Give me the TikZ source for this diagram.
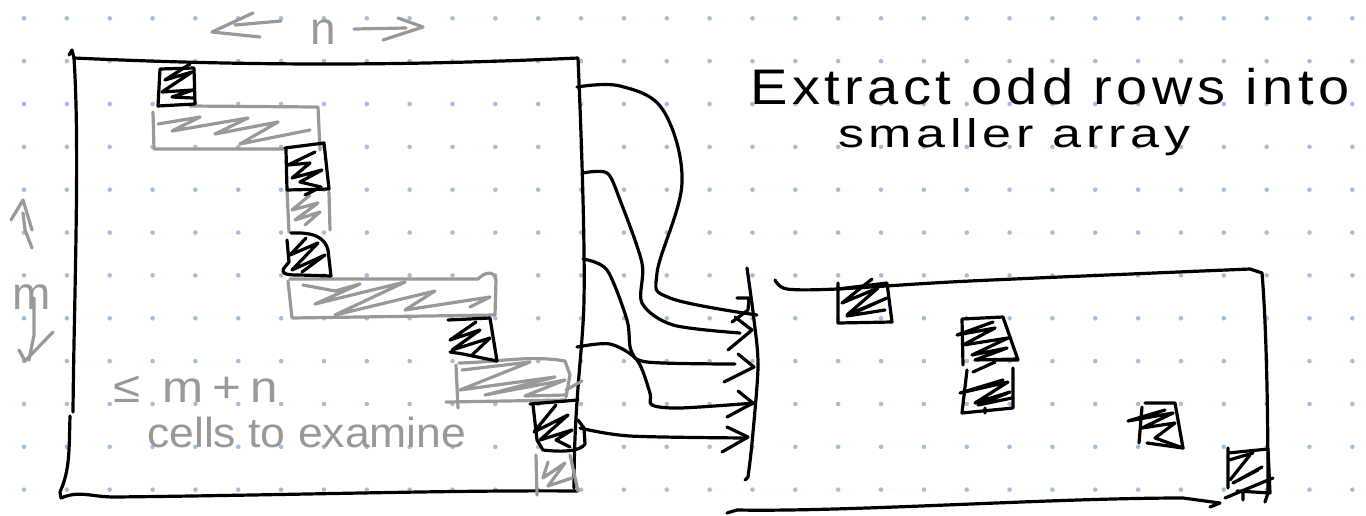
\documentclass[tikz,border=0pt]{standalone}
\usepackage{fontspec}
\setmainfont{Liberation Sans}
\definecolor{griddotcol}{HTML}{A9BCDC}
\definecolor{pencilcol}{HTML}{999999}
\tikzset{
  ink/.style={draw=black,line width=3.2pt,line cap=round,line join=round},
  pencil/.style={draw=pencilcol,line width=3.2pt,line cap=round,line join=round},
  griddot/.style={fill=griddotcol},
  handtext/.style={inner sep=0pt,anchor=base west,transform shape},
}
\begin{document}
\begin{tikzpicture}[x=1pt,y=-1pt]
    \useasboundingbox (0,0) rectangle (1366,515);

    % dotted paper
    \foreach \i in {0,...,31}
        \foreach \j in {0,...,11}
            \fill[griddot] ({24+42.85*\i},{18.3+42.85*\j}) circle (2.3pt);

    % large array
    \draw[ink] (69,55) -- (72,50) -- (74,58) .. controls (250,66) and (400,66) .. (578,58)
        .. controls (582,150) and (585,250) .. (584,300) .. controls (583,350) and (574,400) .. (574,488);
    \draw[ink] (74,58) .. controls (80,150) and (74,300) .. (73,412);
    \draw[ink] (70,416) .. controls (69,450) and (70,470) .. (60,492) -- (61,498)
        .. controls (80,490) and (90,497) .. (115,497) .. controls (300,495) and (450,490) .. (578,491);

    % cells examined, grey
    \draw[pencil] (153,112) -- (154,149) -- (285,149) (190,106) -- (318,107) -- (320,150);
    \draw[pencil] (158,124) -- (200,117) -- (172,131) -- (248,118) -- (215,134) -- (278,122) -- (240,144) -- (310,130);
    \draw[pencil] (287,190) -- (289,232) (329,192) -- (330,230);
    \draw[pencil] (310,195) -- (292,210) -- (318,203) -- (295,220) -- (320,212) -- (305,225);
    \draw[pencil] (288,281) -- (292,318) -- (495,315) -- (496,280) .. controls (494,270) and (485,272) .. (478,279) -- (290,279);
    \draw[pencil] (303,285) -- (335,291) -- (360,284) -- (315,304) -- (405,282) -- (335,315) -- (435,291) -- (405,310) -- (490,297) -- (470,307);
    \draw[pencil] (456,365) -- (458,408) (446,402) -- (566,400) (459,363) .. controls (500,362) and (530,355) .. (565,361) -- (570,375) -- (566,397);
    \draw[pencil] (462,370) -- (530,362) -- (460,390) -- (555,377) -- (485,395) -- (565,380) -- (525,396) -- (566,395);
    \draw[pencil] (582,381) -- (566,390);
    \draw[pencil] (536,455) -- (537,495) (570,455) -- (578,491);
    \draw[pencil] (548,462) -- (543,478) -- (565,463) -- (548,486) -- (572,478);

    % cells examined, black
    \draw[ink] (160,69) -- (158,106) -- (195,104) -- (194,68) -- (160,69);
    \draw[ink] (190,64) -- (165,80) -- (192,72) -- (162,92) -- (193,90) -- (172,97) -- (193,98);
    \draw[ink] (285,148) -- (324,143) -- (329,189) -- (287,190) -- (286,150);
    \draw[ink] (315,152) -- (288,165) -- (310,163) -- (292,178) -- (322,170) -- (300,182) -- (321,187) -- (305,195);
    \draw[ink] (291,233) .. controls (315,232) and (325,238) .. (328,250) -- (331,276) -- (300,275) .. controls (290,275) and (280,275) .. (284,268) -- (289,262) -- (287,240);
    \draw[ink] (306,238) -- (290,255) -- (318,243) -- (292,270) -- (325,255) -- (302,272);
    \draw[ink] (448,320) -- (490,318) -- (497,361) -- (463,354) -- (450,352);
    \draw[ink] (476,322) -- (450,340) -- (480,330) -- (452,350) -- (490,338) -- (472,355);
    \draw[ink] (530,404) -- (578,400);
    \draw[ink] (533,405) -- (537,440) -- (543,450) .. controls (560,452) and (580,452) .. (585,444) -- (584,428) -- (578,420);
    \draw[ink] (556,405) -- (534,432) -- (568,415) -- (540,440) -- (572,430) -- (556,440) -- (570,447);

    % connectors out of the large array
    \coordinate (out1) at (577,87);
    \coordinate (out2) at (583,173);
    \coordinate (out3) at (583,259);
    \coordinate (out4) at (577,347);
    \coordinate (out5) at (580,428);
    \coordinate (in1) at (757,315);
    \coordinate (in2) at (740,333);
    \coordinate (in3) at (735,364);
    \coordinate (in4) at (755,403);
    \coordinate (in5) at (747,438);
    \draw[ink] plot[smooth,tension=.6] coordinates {(out1) (620,86) (663,110) (682,183) (657,273) (670,298) (in1)};
    \draw[ink] plot[smooth,tension=.5] coordinates {(out2) (607,173) (620,200) (642,263) (642,303) (673,325) (in2)};
    \draw[ink] plot[smooth,tension=.5] coordinates {(out3) (607,270) (627,320) (631,350) (647,362) (in3)};
    \draw[ink] plot[smooth,tension=.5] coordinates {(out4) (610,344) (637,360) (650,393) (652,405) (680,408) (in4)};
    \draw[ink] plot[smooth,tension=.5] coordinates {(out5) (630,436) (in5)};

    % scribbled arrow heads and the line they point at
    \draw[ink] plot[smooth,tension=.5] coordinates {(747,268) (754,320) (758,367) (752,443) (748,477)} -- (745,480);
    \draw[ink] (737,298) -- (749,298) -- (748,310) -- (732,322);
    \draw[ink] (735,317) -- (752,330) -- (728,350);
    \draw[ink] (738,354) -- (754,367) -- (724,382);
    \draw[ink] (738,391) -- (753,403) -- (727,417);
    \draw[ink] (727,427) -- (748,437) -- (722,452);

    % smaller array
    \draw[ink] plot[smooth,tension=.5] coordinates {(775,280) (787,289) (837,289) (970,281) (1250,269)} -- (1262,273)
        .. controls (1266,320) and (1268,400) .. (1268,493);
    \draw[ink] (727,513) -- (737,510) .. controls (850,512) and (1050,498) .. (1183,498) -- (1220,503) -- (1210,507);

    \draw[ink] (838,283) -- (838,323) -- (892,322) -- (887,283) -- (838,289);
    \draw[ink] (872,279) -- (842,303) -- (878,288) -- (847,315) -- (887,298) -- (847,316) -- (885,310);
    \draw[ink] (962,319) -- (1003,317) -- (1018,360) -- (995,360) (962,319) -- (963,365);
    \draw[ink] (993,322) -- (957,335) -- (995,328) -- (963,345) -- (1008,338) -- (972,355) -- (1007,348) -- (975,360) -- (1017,359) (995,362) -- (973,372);
    \draw[ink] (967,370) -- (962,413) -- (1013,408) -- (1013,368);
    \draw[ink] (1003,380) -- (960,393) -- (1008,382) -- (975,403) -- (1010,392) -- (978,405) -- (1012,398) (985,408) -- (985,413);
    \draw[ink] (1145,403) -- (1175,403) -- (1183,448) -- (1147,443) (1142,407) -- (1139,443);
    \draw[ink] (1165,410) -- (1128,421) -- (1173,413) -- (1142,428) -- (1175,423) -- (1155,438) -- (1183,448);
    \draw[ink] (1228,453) -- (1268,449) -- (1270,493) -- (1237,491) (1228,448) -- (1228,488);
    \draw[ink] (1253,453) -- (1229,460) (1250,455) -- (1230,480) (1262,467) -- (1233,483) -- (1258,470) (1273,478) -- (1225,498) (1243,492) -- (1243,500) (1268,493) -- (1265,502);

    % double arrows for the sizes
    \draw[pencil] (253,13) -- (212,32) -- (260,37) (235,25) -- (281,21);
    \draw[pencil] (354,29) -- (406,28) (398,18) -- (423,27) -- (383,40);
    \draw[pencil] (11,220) -- (23,200) -- (32,230) (23,213) -- (25,230) -- (32,248);
    \draw[pencil] (34,298) -- (34,335) -- (29,360) (19,350) -- (25,361) -- (53,332);

    % labels
    \node[handtext,text=pencilcol,font=\fontsize{46}{50}\selectfont] (nlabel) at (310,44) {n};
    \node[handtext,text=pencilcol,font=\fontsize{46}{50}\selectfont] (mlabel) at (12,309) {m};
    \node[handtext,text=pencilcol,font=\fontsize{44}{50}\selectfont\addfontfeature{LetterSpace=18},xscale=1.12] (boundlabel) at (113,402) {≤ m+n};
    \node[handtext,text=pencilcol,font=\fontsize{42}{50}\selectfont,xscale=1.06] (cellslabel) at (147,447) {cells to examine};
    \node[handtext,font=\fontsize{50}{60}\selectfont\addfontfeature{LetterSpace=8},xscale=1.12] (titlelabel) at (750,104) {Extract odd rows into};
    \node[handtext,font=\fontsize{40}{50}\selectfont\addfontfeature{LetterSpace=9},xscale=1.3] (subtitlelabel) at (838,147) {smaller array};
\end{tikzpicture}
\end{document}
